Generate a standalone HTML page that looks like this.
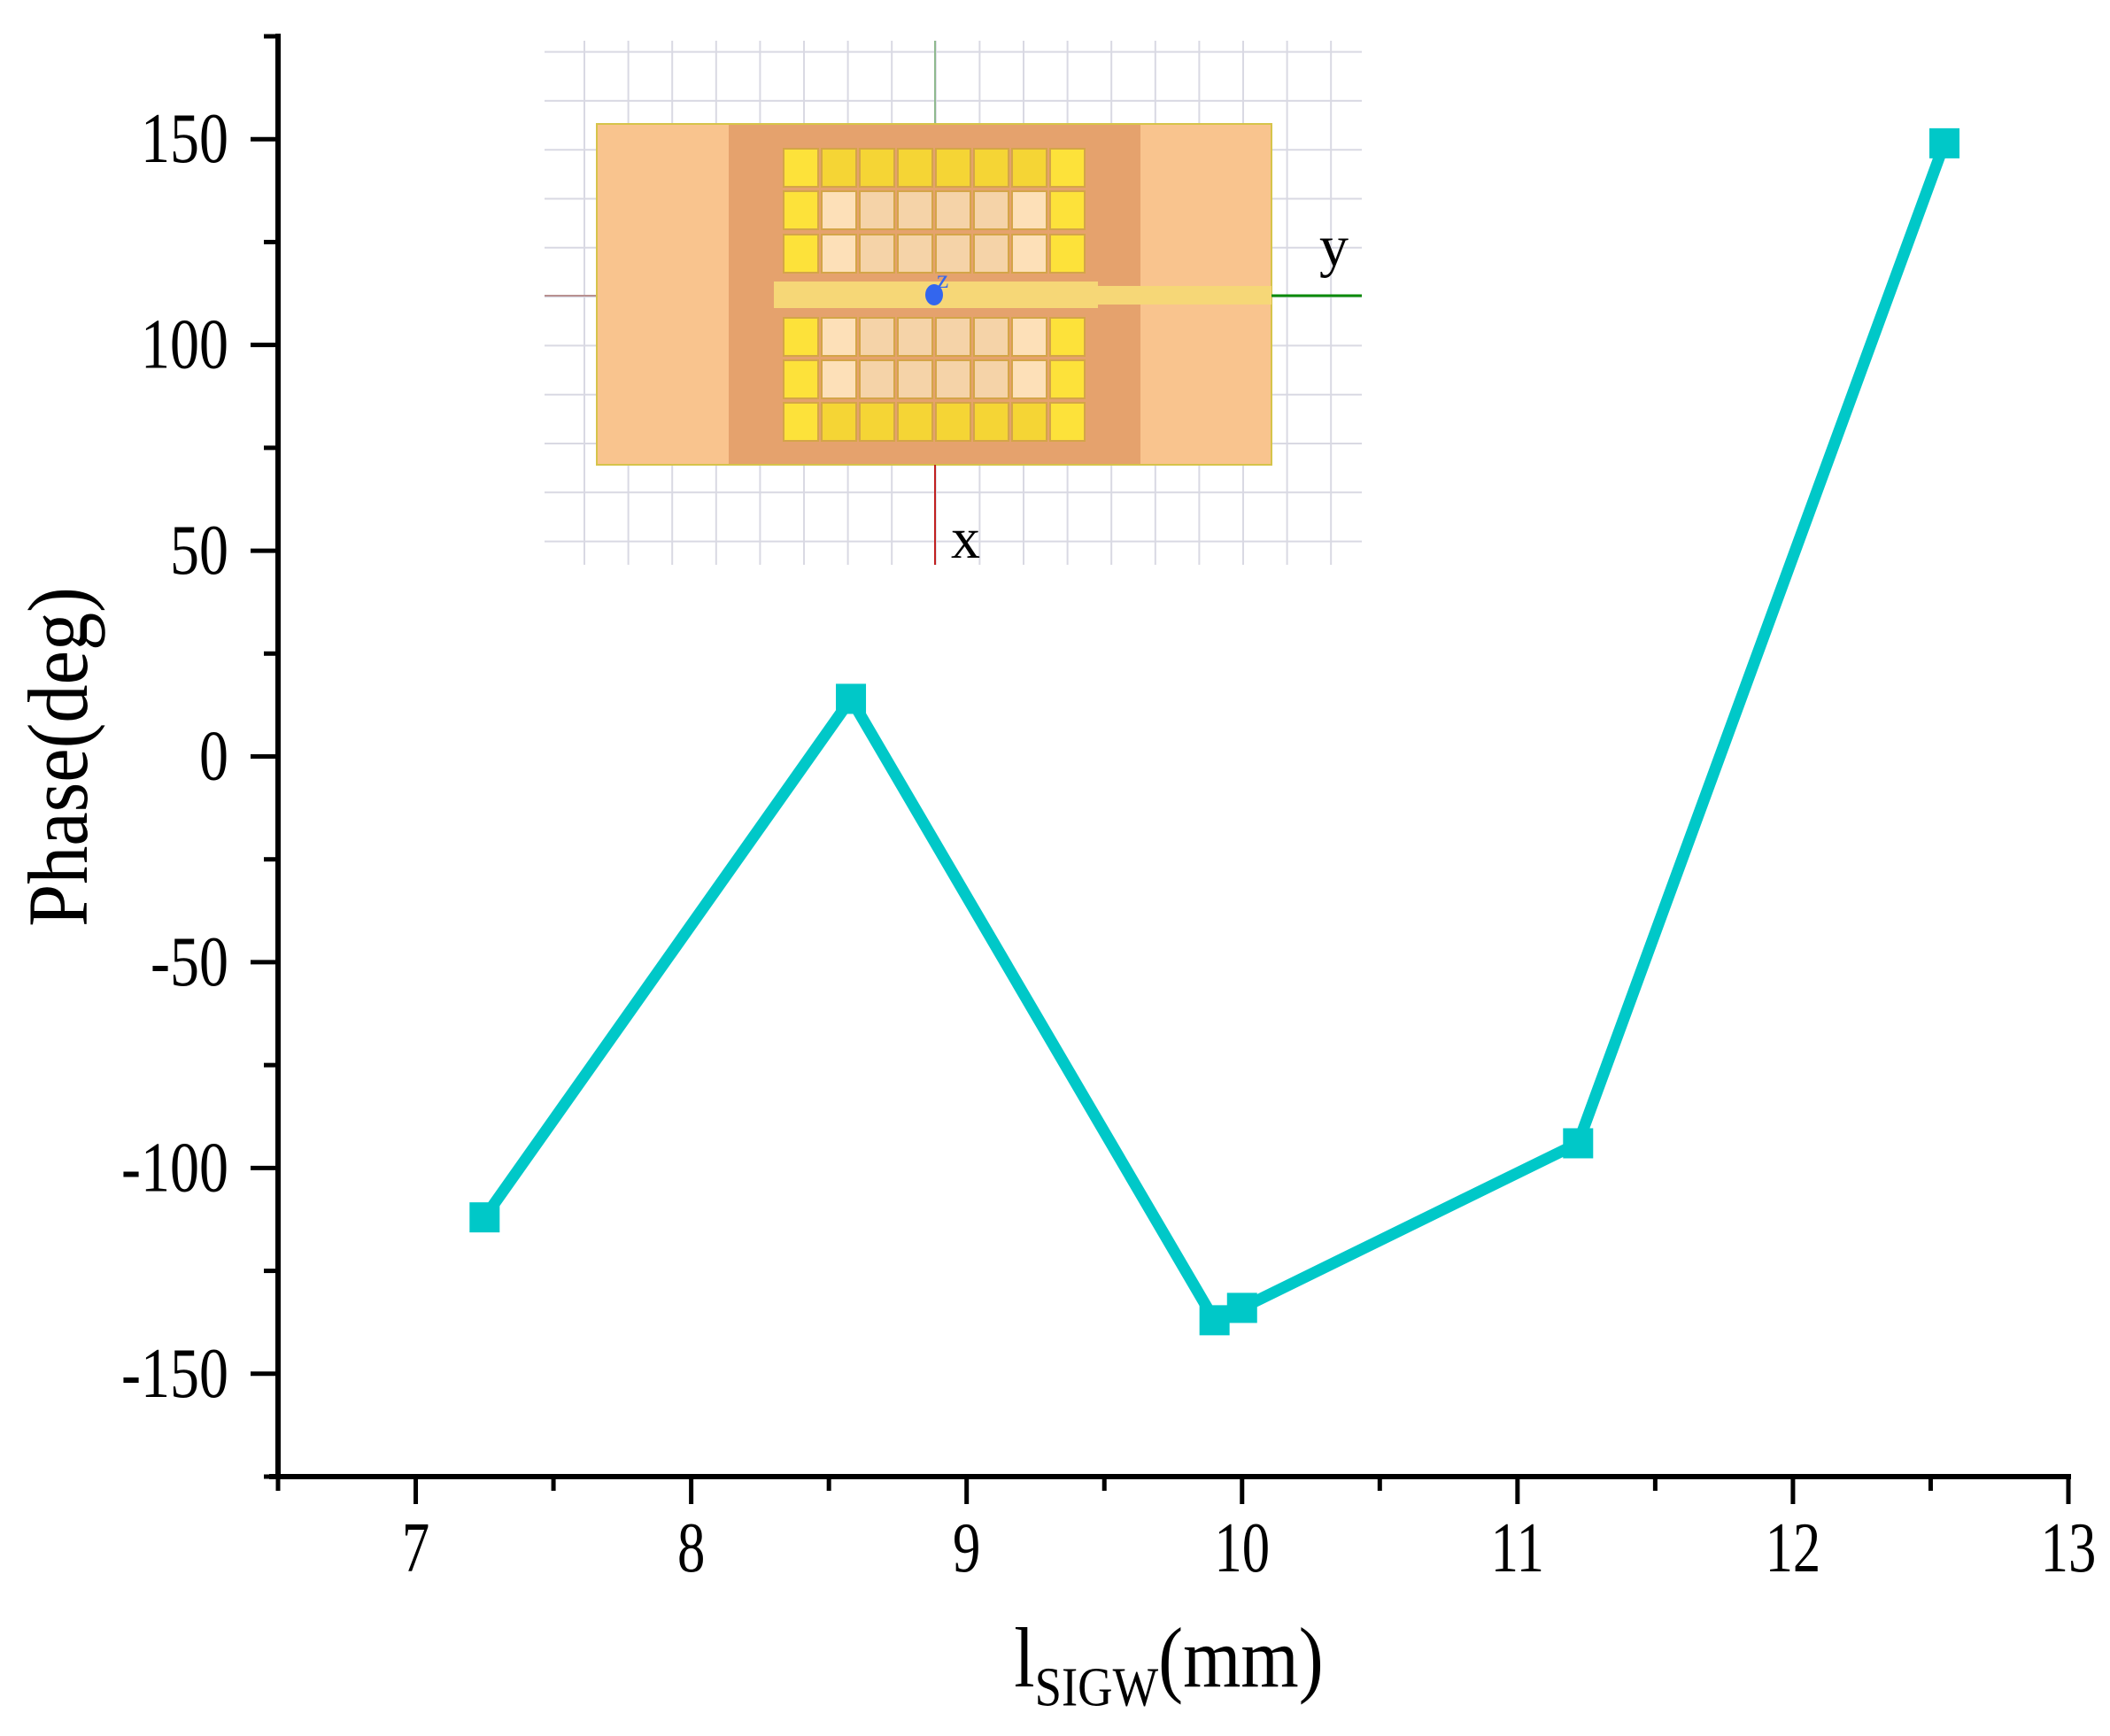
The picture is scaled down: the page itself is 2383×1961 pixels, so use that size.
<!DOCTYPE html>
<html><head><meta charset="utf-8"><style>
html,body{margin:0;padding:0;background:#fff;}
svg{display:block;font-family:"Liberation Serif","Times New Roman",serif;}
</style></head><body>
<svg id="chart" width="2383" height="1961" viewBox="0 0 2383 1961">
<g id="inset"></g>
<g id="plot"></g>
<g id="axes"></g>
</svg>
<script>
const xValues = [7.25, 8.58, 9.9, 10.0, 11.22, 12.55];
const phaseValues = [-112, 14, -137, -134, -94, 149];
const xTickLabels = [7, 8, 9, 10, 11, 12, 13];
const yTickLabels = [-150, -100, -50, 0, 50, 100, 150];

const NS = 'http://www.w3.org/2000/svg';
const L = 314, R = 2336, T = 41, B = 1668;
const xMin = 6.5, xMax = 13, yMin = -175, yMax = 175;
function sx(v){ return L + (v - xMin) / (xMax - xMin) * (R - L); }
function sy(v){ return B - (v - yMin) / (yMax - yMin) * (B - T); }
function mk(tag, attrs, parent){
  const e = document.createElementNS(NS, tag);
  for (const k in attrs) e.setAttribute(k, attrs[k]);
  parent.appendChild(e);
  return e;
}
const inset = document.getElementById('inset');
const plot = document.getElementById('plot');
const axes = document.getElementById('axes');

// ---- inset drawing ----
for (let i = 0; i < 18; i++) {
  const gx = 660 + i * 49.6;
  const g = mk('line', {x1: gx, y1: 46, x2: gx, y2: 638, stroke: '#d9d9e3', 'stroke-width': 2}, inset);
  
  
}
for (let j = 0; j < 11; j++) {
  const gy = 58.6 + j * 55.3;
  const g = mk('line', {x1: 615, y1: gy, x2: 1538, y2: gy, stroke: '#d9d9e3', 'stroke-width': 2}, inset);
  
  
}
let e;
e = mk('line', {x1: 1056, y1: 46, x2: 1056, y2: 140, stroke: '#8fb98f', 'stroke-width': 2}, inset);
 
e = mk('line', {x1: 615, y1: 334, x2: 674, y2: 334, stroke: '#b89090', 'stroke-width': 2}, inset);
 
e = mk('rect', {x: 674, y: 140, width: 762, height: 385, fill: '#f9c48e', stroke: '#d6c44a', 'stroke-width': 2}, inset);
 
e = mk('rect', {x: 823, y: 141, width: 465, height: 383, fill: '#e5a26d'}, inset);
 
const rowsY = [168, 216, 265, 359, 407, 455];
for (let r = 0; r < 6; r++) {
  for (let c = 0; c < 8; c++) {
    const outer = (r === 0 || r === 5 || c === 0 || c === 7);
    const fill = outer ? (c === 0 || c === 7 ? '#fde23a' : '#f5d535') : ((c === 1 || c === 6) ? '#fde0b8' : '#f5d3a8');
    const cell = mk('rect', {x: 885 + c * 43, y: rowsY[r], width: 39, height: 43, fill: fill, stroke: '#d4a548', 'stroke-width': 2}, inset);
    
    
  }
}
e = mk('rect', {x: 874, y: 318, width: 366, height: 30, fill: '#f6d777'}, inset);
 
e = mk('rect', {x: 1240, y: 323, width: 196, height: 21, fill: '#f6d777'}, inset);
 
e = mk('line', {x1: 1436, y1: 334, x2: 1538, y2: 334, stroke: '#0a8a0a', 'stroke-width': 3}, inset);
 
e = mk('line', {x1: 1056, y1: 525, x2: 1056, y2: 638, stroke: '#c02020', 'stroke-width': 2}, inset);
 
e = mk('ellipse', {cx: 1055, cy: 333, rx: 10, ry: 12, fill: '#3366ee'}, inset);
 
e = mk('text', {x: 1058, y: 325, 'font-size': 30, fill: '#3366ee'}, inset);
e.textContent = 'z';
 
e = mk('text', {x: 1490, y: 300, 'font-size': 66, fill: '#000'}, inset);
e.textContent = 'y';
 
e = mk('text', {x: 1074, y: 630, 'font-size': 66, fill: '#000'}, inset);
e.textContent = 'x';
 

// ---- data series ----
let pts = xValues.map((v, i) => sx(v) + ',' + sy(phaseValues[i])).join(' ');
const line = mk('polyline', {points: pts, fill: 'none', stroke: '#00c8c8', 'stroke-width': 13, 'stroke-linejoin': 'round'}, plot);


xValues.forEach((v, i) => {
  const m = mk('rect', {x: sx(v) - 17, y: sy(phaseValues[i]) - 17, width: 34, height: 34, fill: '#00c8c8'}, plot);
  
  
});

// ---- axes ----
e = mk('line', {x1: L, y1: T - 3, x2: L, y2: B + 3, stroke: '#000', 'stroke-width': 6}, axes);
 
e = mk('line', {x1: L - 10, y1: B, x2: R + 3, y2: B, stroke: '#000', 'stroke-width': 6}, axes);
 
for (let v = xMin; v <= xMax + 1e-9; v += 0.5) {
  const major = Math.abs(v - Math.round(v)) < 1e-9;
  const t = mk('line', {x1: sx(v), y1: B, x2: sx(v), y2: B + (major ? 31 : 16), stroke: '#000', 'stroke-width': 5}, axes);
  
  
}
xTickLabels.forEach(v => {
  const t = mk('text', {x: 0, y: 0, 'font-size': 66, 'text-anchor': 'middle', transform: 'translate(' + sx(v) + ',1775) scale(0.95,1.22)'}, axes);
  t.textContent = v;
  
  
});
for (let v = -175; v <= 175; v += 25) {
  const major = v % 50 === 0;
  const t = mk('line', {x1: L, y1: sy(v), x2: L - (major ? 31 : 16), y2: sy(v), stroke: '#000', 'stroke-width': 5}, axes);
  
  
}
yTickLabels.forEach(v => {
  const t = mk('text', {x: 0, y: 0, 'font-size': 66, 'text-anchor': 'end', transform: 'translate(258,' + (sy(v) + 26) + ') scale(1,1.22)'}, axes);
  t.textContent = v;
  
  
});
e = mk('text', {x: 0, y: 0, 'font-size': 80, 'text-anchor': 'middle', transform: 'translate(98,855) rotate(-90) scale(1.08,1.2)'}, axes);
e.textContent = 'Phase(deg)';
 
e = mk('text', {x: 0, y: 0, 'font-size': 80, 'text-anchor': 'middle', transform: 'translate(1320,1905) scale(1.05,1.2)'}, axes);
 
const t1 = mk('tspan', {}, e); t1.textContent = 'l';
const t2 = mk('tspan', {'font-size': 52, dy: 18}, e); t2.textContent = 'SIGW';
const t3 = mk('tspan', {dy: -18}, e); t3.textContent = '(mm)';
</script>
</body></html>
